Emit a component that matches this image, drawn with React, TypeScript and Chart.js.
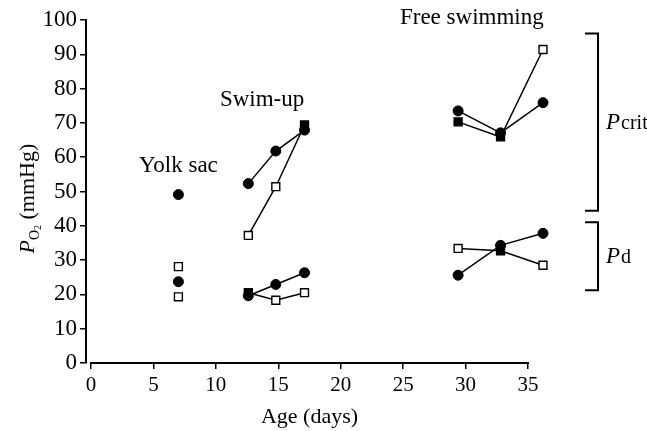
import { useEffect, useRef } from "react";
import { Chart, registerables } from "chart.js";

Chart.register(...registerables);

// ---- data ----
const xTickValues = [0, 5, 10, 15, 20, 25, 30, 35];
const yTickValues = [0, 10, 20, 30, 40, 50, 60, 70, 80, 90, 100];

const yolkAges = [7.0, 7.0];
const yolkCircles = [49.1, 23.7];
const yolkSquares = [28.1, 19.3];

const swimAges = [12.6, 14.8, 17.1];
const swimPcritCircles = [52.3, 61.8, 67.9];
const swimPcritSquares = [37.2, 51.4, 69.4];
const swimPcritSquareFilled = [false, false, true];
const swimPdCircles = [19.6, 22.9, 26.3];
const swimPdSquares = [20.5, 18.3, 20.5];
const swimPdSquareFilled = [true, false, false];

const freeAges = [29.4, 32.8, 36.2];
const freePcritCircles = [73.5, 67.1, 75.9];
const freePcritSquares = [70.3, 65.9, 91.4];
const freePcritSquareFilled = [true, true, false];
const freePdCircles = [25.6, 34.3, 37.8];
const freePdSquares = [33.4, 32.7, 28.5];
const freePdSquareFilled = [false, true, false];

const groupLabels = ["Yolk sac", "Swim-up", "Free swimming"];
const groupLabelAges = [7.0, 13.7, 30.5];
const groupLabelLevels = [55.6, 74.9, 98.8];

const bracketLabels = ["crit", "d"];
const bracketTops = [96.1, 41.0];
const bracketBottoms = [44.4, 21.2];

const xTitle = "Age (days)";
const yTitleMain = "P";
const yTitleSub = "O2";
const yTitleRest = " (mmHg)";

const SERIF = "'Liberation Serif', 'Times New Roman', serif";

function circleSet(xs: number[], ys: number[], line: boolean) {
  return {
    data: xs.map((x, i) => ({ x, y: ys[i] })),
    showLine: line,
    clip: false as any,
    borderColor: "#000",
    borderWidth: 1.5,
    pointStyle: "circle",
    pointRadius: 5,
    pointHoverRadius: 5,
    pointBackgroundColor: "#000",
    pointBorderColor: "#000",
    pointBorderWidth: 1,
  };
}

function squareSet(xs: number[], ys: number[], filled: boolean[], line: boolean) {
  return {
    data: xs.map((x, i) => ({ x, y: ys[i] })),
    showLine: line,
    clip: false as any,
    borderColor: "#000",
    borderWidth: 1.5,
    pointStyle: "rect",
    pointRadius: 5.6,
    pointHoverRadius: 5.6,
    pointBackgroundColor: filled.map((f) => (f ? "#000" : "#fff")),
    pointBorderColor: "#000",
    pointBorderWidth: 1.4,
  };
}

const decorPlugin = {
  id: "decor",
  afterDraw(chart: any) {
    const ctx = chart.ctx as CanvasRenderingContext2D;
    const xs = chart.scales.x;
    const ys = chart.scales.y;
    const area = chart.chartArea;
    const x0 = xs.getPixelForValue(xTickValues[0]);
    const xEnd = xs.getPixelForValue(xTickValues[xTickValues.length - 1]);
    ctx.save();
    ctx.fillStyle = "#000";
    ctx.strokeStyle = "#000";

    // x axis line from 0 to 35
    ctx.lineWidth = 2;
    ctx.beginPath();
    ctx.moveTo(x0 - 1, area.bottom);
    ctx.lineTo(xEnd + 1, area.bottom);
    ctx.stroke();

    // group labels
    ctx.font = `23px ${SERIF}`;
    ctx.textAlign = "center";
    ctx.textBaseline = "alphabetic";
    groupLabels.forEach((t, i) => {
      ctx.fillText(t, xs.getPixelForValue(groupLabelAges[i]), ys.getPixelForValue(groupLabelLevels[i]));
    });

    // x title
    ctx.font = `22px ${SERIF}`;
    ctx.fillText(xTitle, (x0 + xEnd) / 2, area.bottom + 60);

    // brackets
    const bx = xEnd + 70;
    const armX = xEnd + 57;
    ctx.lineWidth = 2;
    bracketTops.forEach((top, i) => {
      const yt = ys.getPixelForValue(top);
      const yb = ys.getPixelForValue(bracketBottoms[i]);
      ctx.beginPath();
      ctx.moveTo(armX, yt);
      ctx.lineTo(bx, yt);
      ctx.lineTo(bx, yb);
      ctx.lineTo(armX, yb);
      ctx.stroke();
      const ym = (yt + yb) / 2 + 7;
      ctx.textAlign = "left";
      ctx.font = `italic 23px ${SERIF}`;
      const px = bx + 8;
      ctx.fillText("P", px, ym);
      const pw = ctx.measureText("P").width;
      ctx.font = `20px ${SERIF}`;
      ctx.fillText(bracketLabels[i], px + pw + 1, ym);
    });

    // y title (rotated)
    ctx.translate(34, (area.top + area.bottom) / 2 + 62);
    ctx.rotate(-Math.PI / 2);
    ctx.textAlign = "left";
    ctx.font = `italic 22px ${SERIF}`;
    ctx.fillText(yTitleMain, 0, 0);
    const w = ctx.measureText(yTitleMain).width;
    ctx.font = `14px ${SERIF}`;
    ctx.fillText(yTitleSub[0], w, 5);
    const w1 = ctx.measureText(yTitleSub[0]).width;
    ctx.font = `10px ${SERIF}`;
    ctx.fillText(yTitleSub.slice(1), w + w1, 7);
    const w2 = ctx.measureText(yTitleSub.slice(1)).width;
    ctx.font = `22px ${SERIF}`;
    ctx.fillText(yTitleRest, w + w1 + w2, 0);

    ctx.restore();
  },
};

export default function App() {
  const canvasRef = useRef<HTMLCanvasElement | null>(null);

  useEffect(() => {
    const canvas = canvasRef.current;
    if (!canvas) return;
    const gridCommon = {
      display: true,
      drawOnChartArea: false,
      drawTicks: true,
      tickLength: 6,
      color: "#000",
      lineWidth: 1.5,
    };
    const chart = new Chart(canvas, {
      type: "line",
      data: {
        datasets: [
          squareSet(yolkAges, yolkSquares, [false, false], false),
          squareSet(swimAges, swimPcritSquares, swimPcritSquareFilled, true),
          squareSet(swimAges, swimPdSquares, swimPdSquareFilled, true),
          squareSet(freeAges, freePcritSquares, freePcritSquareFilled, true),
          squareSet(freeAges, freePdSquares, freePdSquareFilled, true),
          circleSet(yolkAges, yolkCircles, false),
          circleSet(swimAges, swimPcritCircles, true),
          circleSet(swimAges, swimPdCircles, true),
          circleSet(freeAges, freePcritCircles, true),
          circleSet(freeAges, freePdCircles, true),
        ] as any,
      },
      options: {
        animation: false,
        responsive: true,
        maintainAspectRatio: false,
        layout: { padding: { top: 20, right: 96.5, bottom: 0, left: 0 } },
        plugins: { legend: { display: false }, tooltip: { enabled: false } },
        events: [],
        scales: {
          x: {
            type: "linear",
            min: -0.4,
            max: 36.8,
            afterBuildTicks: (s: any) => {
              s.ticks = xTickValues.map((v) => ({ value: v }));
            },
            afterFit: (s: any) => {
              s.height = 68;
            },
            grid: gridCommon,
            border: { display: false },
            ticks: {
              color: "#000",
              font: { family: SERIF, size: 21 },
              padding: 4,
              autoSkip: false,
              maxRotation: 0,
            },
          },
          y: {
            type: "linear",
            min: 0,
            max: 100,
            afterBuildTicks: (s: any) => {
              s.ticks = yTickValues.map((v) => ({ value: v }));
            },
            afterFit: (s: any) => {
              s.width = 86;
            },
            grid: gridCommon,
            border: { display: true, color: "#000", width: 2 },
            ticks: { color: "#000", font: { family: SERIF, size: 23 }, padding: 3 },
          },
        },
      } as any,
      plugins: [decorPlugin],
    });
    return () => chart.destroy();
  }, []);

  return (
    <div style={{ position: "fixed", left: 0, top: 0, width: 647, height: 431, background: "#fff" }}>
      <canvas ref={canvasRef} />
    </div>
  );
}
